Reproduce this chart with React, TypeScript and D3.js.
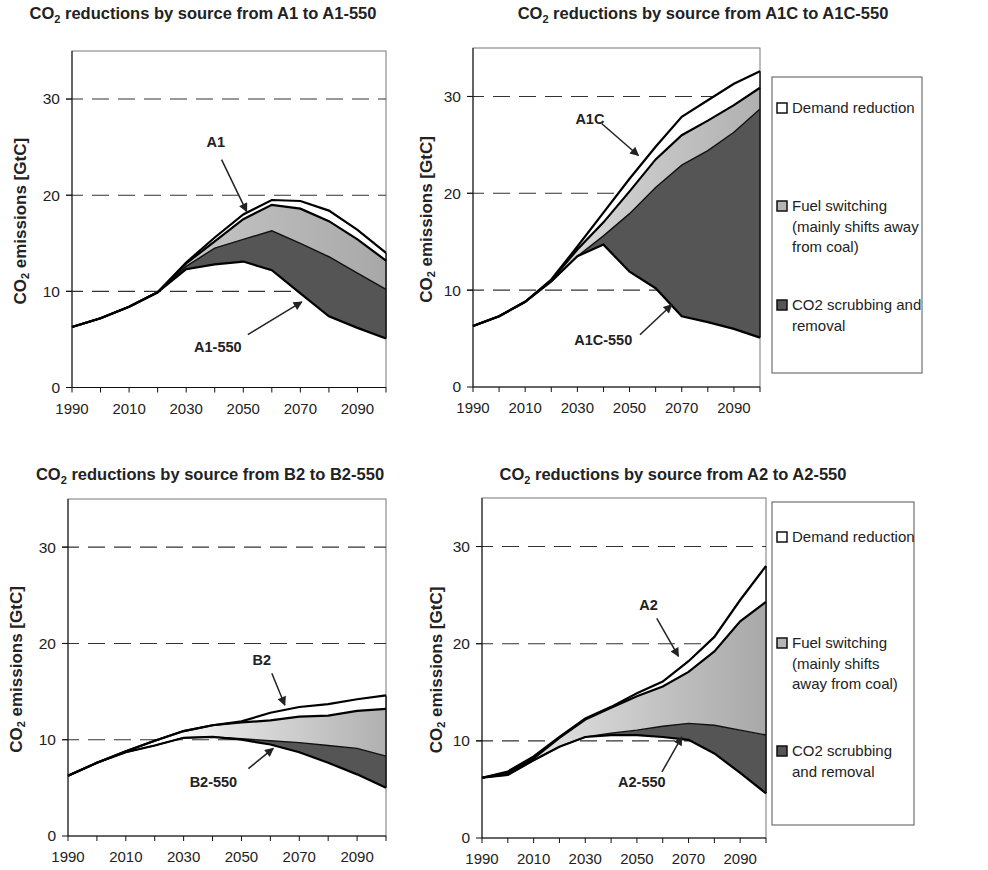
import React from "react";
import * as d3 from "d3";

// ---------- DATA ----------
const years = [1990, 2000, 2010, 2020, 2030, 2040, 2050, 2060, 2070, 2080, 2090, 2100];
const xTickLabels = [1990, 2010, 2030, 2050, 2070, 2090];
const yTickValues = [0, 10, 20, 30];
const gridValues = [10, 20, 30];

// A1 -> A1-550
const a1Baseline = [6.3, 7.2, 8.4, 9.9, 13.0, 15.6, 18.0, 19.5, 19.4, 18.4, 16.4, 14.0];
const a1AfterDemand = [6.3, 7.2, 8.4, 9.9, 12.9, 15.2, 17.5, 19.0, 18.6, 17.3, 15.4, 13.2];
const a1AfterFuel = [6.3, 7.2, 8.4, 9.9, 12.6, 14.5, 15.4, 16.3, 15.0, 13.6, 11.9, 10.2];
const a1Stab = [6.3, 7.2, 8.4, 9.9, 12.3, 12.8, 13.1, 12.2, 9.8, 7.4, 6.2, 5.1];

// A1C -> A1C-550
const a1cBaseline = [6.3, 7.3, 8.8, 11.1, 14.5, 18.0, 21.5, 24.8, 27.9, 29.6, 31.3, 32.6];
const a1cAfterDemand = [6.3, 7.3, 8.8, 11.0, 14.2, 17.0, 20.2, 23.5, 26.0, 27.5, 29.1, 30.9];
const a1cAfterFuel = [6.3, 7.3, 8.8, 10.9, 13.5, 15.6, 17.9, 20.6, 22.9, 24.4, 26.3, 28.7];
const a1cStab = [6.3, 7.3, 8.8, 10.9, 13.5, 14.7, 11.9, 10.2, 7.3, 6.7, 6.0, 5.1];

// B2 -> B2-550
const b2Baseline = [6.25, 7.6, 8.8, 9.9, 10.9, 11.5, 11.9, 12.8, 13.4, 13.7, 14.2, 14.6];
const b2AfterDemand = [6.25, 7.6, 8.8, 9.9, 10.9, 11.5, 11.8, 12.0, 12.4, 12.5, 13.0, 13.2];
const b2AfterFuel = [6.25, 7.6, 8.7, 9.4, 10.2, 10.3, 10.1, 9.9, 9.7, 9.4, 9.1, 8.3];
const b2Stab = [6.25, 7.6, 8.7, 9.4, 10.2, 10.3, 10.0, 9.5, 8.7, 7.6, 6.4, 5.0];

// A2 -> A2-550
const a2Baseline = [6.2, 6.85, 8.4, 10.4, 12.3, 13.5, 14.9, 16.1, 18.2, 20.7, 24.5, 28.0];
const a2AfterDemand = [6.2, 6.7, 8.2, 10.3, 12.2, 13.4, 14.6, 15.6, 17.1, 19.2, 22.3, 24.3];
const a2AfterFuel = [6.2, 6.5, 8.0, 9.4, 10.4, 10.8, 11.1, 11.5, 11.8, 11.6, 11.1, 10.6];
const a2Stab = [6.2, 6.5, 8.0, 9.4, 10.4, 10.6, 10.6, 10.4, 10.1, 8.7, 6.7, 4.6];

const legendDemand = ["Demand reduction"];
const legendFuelWide = ["Fuel switching", "(mainly shifts away", "from coal)"];
const legendScrubWide = ["CO2 scrubbing and", "removal"];
const legendFuelNarrow = ["Fuel switching", "(mainly shifts", "away from coal)"];
const legendScrubNarrow = ["CO2 scrubbing", "and removal"];

// annotation anchors in data units [year, value]
type Pt = [number, number];
type Ann = { text: string; label: Pt; from: Pt; to: Pt };

// ---------- LAYOUT ----------
type Panel = {
  id: string;
  from: string;
  to: string;
  baseline: number[];
  afterDemand: number[];
  afterFuel: number[];
  stab: number[];
  box: { left: number; right: number; top: number; bottom: number };
  titleX: number;
  titleY: number;
  yLabelX: number;
  fuelStops: [number, string][];
  anns: Ann[];
  legend?: { x: number; y: number; w: number; h: number; groups: { lines: string[]; y: number }[] };
};

const panels: Panel[] = [
  {
    id: "a1", from: "A1", to: "A1-550",
    baseline: a1Baseline, afterDemand: a1AfterDemand, afterFuel: a1AfterFuel, stab: a1Stab,
    box: { left: 72, right: 386, top: 51, bottom: 387.5 },
    titleX: 203, titleY: 19, yLabelX: 26,
    fuelStops: [[0, "#f0f0f0"], [0.3, "#c8c8c8"], [1, "#a8a8a8"]],
    anns: [
      { text: "A1", label: [2040.4, 25.5], from: [2042.4, 23.7], to: [2051.2, 18.3] },
      { text: "A1-550", label: [2041.1, 4.2], from: [2051.6, 5.5], to: [2070.5, 8.9] },
    ],
  },
  {
    id: "a1c", from: "A1C", to: "A1C-550",
    baseline: a1cBaseline, afterDemand: a1cAfterDemand, afterFuel: a1cAfterFuel, stab: a1cStab,
    box: { left: 473, right: 760, top: 48, bottom: 387 },
    titleX: 703, titleY: 19, yLabelX: 432,
    fuelStops: [[0, "#f4f4f4"], [0.4, "#d4d4d4"], [1, "#b0b0b0"]],
    anns: [
      { text: "A1C", label: [2034.8, 27.7], from: [2039.3, 27.2], to: [2053.4, 23.9] },
      { text: "A1C-550", label: [2039.9, 4.9], from: [2054, 5.4], to: [2066.2, 8.5] },
    ],
    legend: {
      x: 772, y: 77, w: 150, h: 296,
      groups: [
        { lines: legendDemand, y: 108 },
        { lines: legendFuelWide, y: 206 },
        { lines: legendScrubWide, y: 305 },
      ],
    },
  },
  {
    id: "b2", from: "B2", to: "B2-550",
    baseline: b2Baseline, afterDemand: b2AfterDemand, afterFuel: b2AfterFuel, stab: b2Stab,
    box: { left: 68, right: 386, top: 499, bottom: 836 },
    titleX: 210, titleY: 480, yLabelX: 22,
    fuelStops: [[0, "#ffffff"], [0.35, "#fbfbfb"], [0.5, "#e2e2e2"], [1, "#b0b0b0"]],
    anns: [
      { text: "B2", label: [2057, 18.3], from: [2060.5, 16.9], to: [2065, 13.6] },
      { text: "B2-550", label: [2040.3, 5.6], from: [2052.4, 7.0], to: [2061, 9.1] },
    ],
  },
  {
    id: "a2", from: "A2", to: "A2-550",
    baseline: a2Baseline, afterDemand: a2AfterDemand, afterFuel: a2AfterFuel, stab: a2Stab,
    box: { left: 482, right: 766, top: 498, bottom: 838 },
    titleX: 673, titleY: 480, yLabelX: 442,
    fuelStops: [[0, "#f6f6f6"], [0.3, "#dadada"], [1, "#a8a8a8"]],
    anns: [
      { text: "A2", label: [2054.5, 24.0], from: [2057.7, 22.6], to: [2066.1, 18.7] },
      { text: "A2-550", label: [2051.9, 5.8], from: [2059.7, 6.8], to: [2067.4, 10.4] },
    ],
    legend: {
      x: 772, y: 502, w: 142, h: 323,
      groups: [
        { lines: legendDemand, y: 537 },
        { lines: legendFuelNarrow, y: 643 },
        { lines: legendScrubNarrow, y: 751 },
      ],
    },
  },
];

const FONT = "'Liberation Sans', Arial, Helvetica, sans-serif";
const DARK_FILL = "#555555";
const legendFills = ["#ffffff", "#b5b5b5", "#555555"];

function PanelView({ p }: { p: Panel }) {
  const { left, right, top, bottom } = p.box;
  const x = d3.scaleLinear().domain([1990, 2100]).range([left, right]);
  const y = d3.scaleLinear().domain([0, 35]).range([bottom, top]);
  const idx = years.map((_, i) => i);

  const band = (upper: number[], lower: number[]) =>
    d3.area<number>()
      .x((i) => x(years[i]))
      .y0((i) => y(lower[i]))
      .y1((i) => y(upper[i]))(idx) || "";
  const line = (vals: number[]) =>
    d3.line<number>().x((i) => x(years[i])).y((i) => y(vals[i]))(idx) || "";

  const gradId = `fuel-${p.id}`;

  return (
    <g>
      <defs>
        <linearGradient id={gradId} x1="0" y1="0" x2="1" y2="0">
          {p.fuelStops.map(([o, c], i) => (
            <stop key={i} offset={`${o * 100}%`} stopColor={c} />
          ))}
        </linearGradient>
      </defs>

      {/* title */}
      <text x={p.titleX} y={p.titleY} textAnchor="middle" fontFamily={FONT} fontWeight="bold" fontSize={16.5} fill="#222">
        CO<tspan fontSize={11} dy={4}>2</tspan>
        <tspan dy={-4}>{` reductions by source from ${p.from} to ${p.to}`}</tspan>
      </text>

      {/* y label */}
      <text
        transform={`translate(${p.yLabelX},${(top + bottom) / 2 + 2}) rotate(-90)`}
        textAnchor="middle"
        fontFamily={FONT}
        fontWeight="bold"
        fontSize={17}
        fill="#222"
      >
        CO<tspan fontSize={11} dy={3}>2</tspan>
        <tspan dy={-3}> emissions [GtC]</tspan>
      </text>

      {/* frame */}
      <rect x={left} y={top} width={right - left} height={bottom - top} fill="#fff" stroke="#777" strokeWidth={1} />

      {/* grid */}
      {gridValues.map((g) => (
        <line key={g} x1={left - 6} x2={right} y1={y(g)} y2={y(g)} stroke="#333" strokeWidth={1.1} strokeDasharray="17,9" />
      ))}

      {/* areas */}
      <path d={band(p.afterDemand, p.afterFuel)} fill={`url(#${gradId})`} />
      <path d={band(p.afterFuel, p.stab)} fill={DARK_FILL} />
      <path d={band(p.baseline, p.afterDemand)} fill="#fff" />

      {/* right edge of areas */}
      <line x1={x(2100)} x2={x(2100)} y1={y(p.baseline[11])} y2={y(p.stab[11])} stroke="#111" strokeWidth={1.5} />

      {/* lines */}
      <path d={line(p.afterFuel)} fill="none" stroke="#111" strokeWidth={1.4} />
      <path d={line(p.stab)} fill="none" stroke="#000" strokeWidth={2.2} />
      <path d={line(p.afterDemand)} fill="none" stroke="#000" strokeWidth={2.2} />
      <path d={line(p.baseline)} fill="none" stroke="#000" strokeWidth={2.2} />

      {/* axes */}
      <line x1={left} x2={left} y1={top} y2={bottom} stroke="#111" strokeWidth={1} />
      <line x1={left} x2={right} y1={bottom} y2={bottom} stroke="#111" strokeWidth={1} />
      {years.map((t) => (
        <line key={t} x1={x(t)} x2={x(t)} y1={bottom} y2={bottom + 5} stroke="#111" strokeWidth={1} />
      ))}
      {yTickValues.map((t) => (
        <g key={t}>
          <line x1={left - 6} x2={left} y1={y(t)} y2={y(t)} stroke="#111" strokeWidth={1} />
          <text x={left - 12} y={y(t)} dy="0.35em" textAnchor="end" fontFamily={FONT} fontSize={15.5} fill="#222">
            {t}
          </text>
        </g>
      ))}
      {xTickLabels.map((t) => (
        <text key={t} x={x(t)} y={bottom + 26} textAnchor="middle" fontFamily={FONT} fontSize={15} fill="#222">
          {t}
        </text>
      ))}

      {/* annotations */}
      {p.anns.map((a) => (
        <g key={a.text}>
          <text x={x(a.label[0])} y={y(a.label[1])} dy="0.35em" textAnchor="middle" fontFamily={FONT} fontWeight="bold" fontSize={14.5} fill="#222">
            {a.text}
          </text>
          <line
            x1={x(a.from[0])}
            y1={y(a.from[1])}
            x2={x(a.to[0])}
            y2={y(a.to[1])}
            stroke="#222"
            strokeWidth={1.5}
            markerEnd="url(#arrowHead)"
          />
        </g>
      ))}

      {/* legend */}
      {p.legend && (
        <g>
          <rect x={p.legend.x} y={p.legend.y} width={p.legend.w} height={p.legend.h} fill="#fff" stroke="#555" strokeWidth={1} />
          {p.legend.groups.map((g, gi) => (
            <g key={gi}>
              <rect x={p.legend!.x + 5} y={g.y - 5} width={10} height={10} fill={legendFills[gi]} stroke="#111" strokeWidth={1.5} />
              {g.lines.map((ln, li) => (
                <text key={li} x={p.legend!.x + 20} y={g.y + li * 20.5} dy="0.36em" fontFamily={FONT} fontSize={15} fill="#222">
                  {ln}
                </text>
              ))}
            </g>
          ))}
        </g>
      )}
    </g>
  );
}

export default function App() {
  return (
    <svg width={988} height={870} style={{ display: "block", position: "absolute", left: 0, top: 0, background: "#fff" }}>
      <defs>
        <marker id="arrowHead" viewBox="0 0 10 10" refX="9" refY="5" markerWidth="11" markerHeight="9" markerUnits="userSpaceOnUse" orient="auto">
          <path d="M0,0 L10,5 L0,10 z" fill="#222" />
        </marker>
      </defs>
      <rect width={988} height={870} fill="#fff" />
      {panels.map((p) => (
        <PanelView key={p.id} p={p} />
      ))}
    </svg>
  );
}
